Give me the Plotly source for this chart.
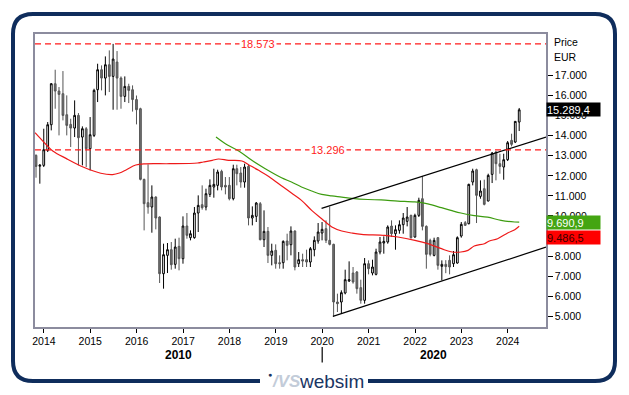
import calendar
import plotly.graph_objects as go

# ---------------- DATA ----------------
# Monthly candles, Oct 2013 .. Mar 2024 (EUR)
opens = [13019, 12480, 12521, 13268, 14546, 16588, 16223, 16090, 15044, 14563,
         14380, 15011, 13932, 14347, 13351, 14015, 16289, 17285, 16870, 17534,
         16953, 17667, 16870, 15957, 16455, 16289, 15800, 15343, 11824, 10662,
         10446, 10944, 9948, 7126, 8039, 8321, 7591, 8487, 7873, 9500,
         8919, 8919, 10147, 10562, 10446, 11077, 11442, 11525, 12222, 11525,
         11525, 10861, 12355, 12139, 11691, 12471, 9898, 9981, 10612, 8819,
         9234, 8039, 8288, 7674, 7674, 8753, 8570, 9251, 7624, 7823,
         7823, 7707, 8321, 8753, 9151, 9367, 8786, 8587, 5715, 5715,
         6163, 6761, 7159, 7209, 6429, 5798, 7624, 7159, 7093, 8205,
         8653, 8703, 9500, 9118, 9284, 9566, 9732, 10031, 8952, 10031,
         10861, 9483, 8786, 8039, 8919, 7492, 7591, 7790, 7624, 7657,
         9002, 9666, 9616, 11691, 12305, 10977, 11359, 10745, 12073, 13185,
         12604, 12438, 12803, 13766, 13683, 14679]
highs = [13069, 12580, 14347, 14679, 16621, 17285, 16422, 17219, 16007, 14845,
         15758, 15127, 14463, 14430, 14928, 16339, 17584, 17501, 17949, 18248,
         18573, 18215, 16953, 16953, 16588, 16505, 16000, 15393, 11857, 12571,
         11525, 10977, 9981, 8620, 8653, 8703, 8869, 8919, 9981, 10147,
         9284, 10446, 11027, 11525, 11359, 11824, 12355, 12305, 12305, 11940,
         11940, 12554, 12554, 12438, 12604, 12571, 10479, 10695, 10695, 10280,
         9450, 8620, 8587, 8039, 8786, 9118, 9483, 9284, 8205, 8122,
         8321, 8454, 8985, 9649, 9699, 9782, 10463, 8620, 6130, 6296,
         7325, 7740, 7458, 7259, 6827, 7906, 7790, 7823, 8371, 8952,
         8985, 9533, 9782, 9533, 9782, 10147, 10446, 10064, 10114, 10911,
         11990, 9533, 8869, 8919, 8952, 7790, 7800, 8039, 8255, 8985,
         9699, 9749, 11608, 12355, 12355, 11774, 11807, 12106, 13185, 13235,
         13102, 13102, 13733, 14098, 14729, 15380]
lows = [11907, 11610, 12438, 13185, 14264, 15343, 14015, 14762, 14015, 13434,
        13932, 12521, 12521, 12438, 12272, 13932, 15675, 16256, 16007, 16173,
        15293, 15293, 15343, 15675, 15625, 15200, 14563, 11774, 9284, 10114,
        9168, 9334, 6661, 6379, 7159, 7325, 7375, 7292, 7624, 8869,
        8786, 8869, 9201, 10313, 10280, 10944, 10911, 11276, 11276, 11077,
        10778, 10778, 11525, 11409, 11409, 9533, 9533, 9699, 8786, 8454,
        7657, 7541, 7375, 7375, 7375, 7790, 8039, 7292, 7458, 7458,
        7458, 7458, 7989, 8620, 8786, 8653, 8537, 5000, 5217, 5167,
        6097, 6711, 6628, 6130, 5632, 5632, 7093, 7043, 7043, 8089,
        8122, 8620, 8952, 8321, 9118, 9118, 9483, 8869, 8919, 9948,
        9284, 7375, 7989, 7989, 7325, 6793, 7150, 7093, 7458, 7624,
        8919, 9500, 9583, 11525, 9649, 10861, 10529, 10728, 11641, 11774,
        12106, 11807, 12737, 13467, 13633, 14231]
closes = [12471, 12530, 13301, 14546, 16588, 16223, 16057, 15011, 14513, 14380,
          15011, 13899, 14347, 13351, 14048, 16256, 17285, 16870, 17534, 16953,
          17816, 16870, 15957, 16455, 16256, 15800, 15293, 11824, 10612, 10446,
          10944, 9898, 7126, 8072, 8321, 7574, 8454, 7873, 9500, 9035,
          9118, 10147, 10529, 10413, 11110, 11525, 11575, 12189, 11442, 11442,
          10861, 12355, 12106, 11691, 12438, 9898, 10031, 10645, 8819, 9234,
          8039, 8255, 7624, 7624, 8736, 8537, 9251, 7458, 7823, 7757,
          7707, 8371, 8786, 9201, 9334, 8786, 8587, 5715, 5632, 6180,
          6827, 6827, 6711, 6379, 5798, 7624, 7375, 7458, 8205, 8703,
          8736, 9450, 9118, 9317, 9566, 9898, 9948, 8919, 10031, 10778,
          9483, 8089, 8089, 8786, 7541, 7591, 7480, 7458, 8072, 8919,
          9583, 9533, 11575, 12239, 11027, 11243, 10579, 12023, 13135, 12604,
          12471, 12803, 13650, 13567, 14712, 15289.4]

# moving averages
ma_red_dates = ["2013-10-23", "2014-01-20", "2014-03-12", "2014-06-24", "2014-11-15",
                "2015-03-25", "2015-06-26", "2015-08-19", "2015-10-13", "2015-12-25",
                "2016-03-14", "2016-09-15", "2017-04-25", "2017-06-09", "2017-08-19",
                "2017-10-07", "2017-12-25", "2018-04-09", "2018-05-31", "2018-08-19",
                "2018-11-06", "2019-02-28", "2019-05-04", "2019-07-22", "2019-10-10",
                "2019-12-28", "2020-03-17", "2020-06-03", "2020-08-22", "2020-11-06",
                "2021-05-07", "2021-08-19", "2021-12-31", "2022-04-12", "2022-07-28",
                "2022-10-10", "2022-12-28", "2023-02-22", "2023-04-12", "2023-07-01",
                "2023-08-09", "2023-10-13", "2023-12-31", "2024-02-25", "2024-03-31"]
ma_red = [14150, 13550, 13240, 12870, 12415, 12130, 12065, 12141, 12306, 12540,
          12600, 12604, 12640, 12690, 12770, 12838, 12771, 12738, 12555, 12273,
          11972, 11440, 11143, 10778, 10280, 9865, 9450, 9251, 9151, 9085,
          9035, 8952, 8786, 8620, 8371, 8220, 8205, 8288, 8504, 8620,
          8753, 8869, 9151, 9317, 9486.5]
ma_green_dates = ["2017-09-17", "2017-11-30", "2018-03-15", "2018-06-26", "2018-10-10",
                  "2019-02-15", "2019-05-04", "2019-07-22", "2019-10-10", "2019-12-28",
                  "2020-03-17", "2020-06-03", "2020-08-22", "2020-12-25", "2021-04-09",
                  "2021-08-19", "2021-12-31", "2022-04-12", "2022-07-28", "2022-10-10",
                  "2022-12-28", "2023-04-12", "2023-07-26", "2023-11-09", "2024-02-25",
                  "2024-03-31"]
ma_green = [13934, 13601, 13237, 12771, 12356, 11906, 11691, 11442, 11243, 11076,
            11000, 10944, 10880, 10820, 10800, 10745, 10700, 10600, 10413, 10280,
            10147, 10020, 9940, 9780, 9700, 9690.9]

# trend channel
channel_dates_upper = ["2019-12-27", "2024-10-28"]
channel_upper = [10380, 13934]
channel_dates_lower = ["2020-03-25", "2024-10-28"]
channel_lower = [5000, 8446]

levels = [18573, 13296]
level_label_pos = [0.437, 0.5726]
y_ticks = [5000, 6000, 7000, 8000, 9000, 10000, 11000, 12000, 13000, 14000,
           15000, 16000, 17000]
# 9.000 sits fully behind the red value box in the original
y_tick_labels = ["5.000", "6.000", "7.000", "8.000", "", "10.000", "11.000", "12.000",
                 "13.000", "14.000", "15.000", "16.000", "17.000"]
decade_labels = ["2010", "2020"]
decade_label_x = ["2016-11-27", "2022-05-30"]
decade_break = "2020-01-01"

# ---------------- FIGURE ----------------
FONT = "Liberation Sans, Arial, sans-serif"
W, H = 629, 395
ML, MR, MT, MB = 35, 83, 34, 68
PW, PH = W - ML - MR, H - MT - MB


def px(x):
    return (x - ML) / PW


def py(y):
    return (H - MB - y) / PH


def eu(v, dec=1):
    s = f"{v:,.{dec}f}"
    return s.replace(",", "X").replace(".", ",").replace("X", ".")


dates = []
yy, mm = 2013, 10
for _ in range(len(opens)):
    dates.append(f"{yy}-{mm:02d}-{calendar.monthrange(yy, mm)[1]:02d}")
    mm += 1
    if mm > 12:
        mm, yy = 1, yy + 1

fig = go.Figure()
fig.add_trace(go.Scatter(x=ma_red_dates, y=ma_red, mode="lines",
                         line=dict(color="#ee1a1a", width=1.2, shape="spline"),
                         showlegend=False))
fig.add_trace(go.Scatter(x=ma_green_dates, y=ma_green, mode="lines",
                         line=dict(color="#3d9c10", width=1.2, shape="spline"),
                         showlegend=False))
fig.add_trace(go.Candlestick(
    x=dates, open=opens, high=highs, low=lows, close=closes,
    increasing=dict(line=dict(color="#000000", width=1), fillcolor="#ffffff"),
    decreasing=dict(line=dict(color="#555555", width=1), fillcolor="#707070"),
    whiskerwidth=0, showlegend=False))
fig.add_trace(go.Scatter(x=channel_dates_upper, y=channel_upper, mode="lines",
                         line=dict(color="#000000", width=1.2), showlegend=False))
fig.add_trace(go.Scatter(x=channel_dates_lower, y=channel_lower, mode="lines",
                         line=dict(color="#000000", width=1.2), showlegend=False))

shapes = []
annotations = []


def note(**kw):
    kw.setdefault("showarrow", False)
    kw.setdefault("xanchor", "center")
    kw.setdefault("yanchor", "middle")
    annotations.append(kw)


for lv, lp in zip(levels, level_label_pos):
    shapes.append(dict(type="line", xref="paper", x0=0, x1=1, yref="y", y0=lv, y1=lv,
                       line=dict(color="#ff1a1a", width=1.2, dash="6px,4px")))
    note(xref="paper", x=lp, yref="y", y=lv, text=eu(lv, 0), bgcolor="#ffffff", borderpad=1,
         font=dict(family=FONT, size=11, color="#ff1a1a"))

# decade row
for lab, lx in zip(decade_labels, decade_label_x):
    note(xref="x", x=lx, yref="paper", y=py(355), text=f"<b>{lab}</b>",
         font=dict(family=FONT, size=12, color="#000"))
shapes.append(dict(type="line", xref="x", x0=decade_break, x1=decade_break,
                   yref="paper", y0=py(347), y1=py(362.5), line=dict(color="#000", width=1.2)))

# right side captions
note(xref="paper", x=1, xanchor="left", xshift=6, yref="paper", y=py(42),
     text="Price", font=dict(family=FONT, size=10.5, color="#000"))
note(xref="paper", x=1, xanchor="left", xshift=6, yref="paper", y=py(57),
     text="EUR", font=dict(family=FONT, size=10.5, color="#000"))

last_labels = [(closes[-1], "#000000", "#ffffff", 0),
               (ma_green[-1], "#44a512", "#ffffff", 0),
               (ma_red[-1], "#ff0000", "#3a0000", -11)]
for val, bg, fg, ys in last_labels:
    note(xref="paper", x=1, xanchor="left", yref="y", y=val, yshift=ys,
         text=eu(val, 1), bgcolor=bg, width=53, height=13, align="left", borderpad=0,
         font=dict(family=FONT, size=11, color=fg))

# frame with rounded corners and gap for the logo
L, R, T, B, r = 13, 615, 14, 381, 20
path = (f"M {px(260)} {py(B)} L {px(L + r)} {py(B)} Q {px(L)} {py(B)} {px(L)} {py(B - r)} "
        f"L {px(L)} {py(T + r)} Q {px(L)} {py(T)} {px(L + r)} {py(T)} "
        f"L {px(R - r)} {py(T)} Q {px(R)} {py(T)} {px(R)} {py(T + r)} "
        f"L {px(R)} {py(B - r)} Q {px(R)} {py(B)} {px(R - r)} {py(B)} L {px(368)} {py(B)}")
shapes.append(dict(type="path", xref="paper", yref="paper", path=path,
                   line=dict(color="#0f2d5c", width=4)))

# logo
note(xref="paper", yref="paper", x=px(331), y=py(381), text="websim",
     font=dict(family=FONT, size=19, color="#1a3563"))
note(xref="paper", yref="paper", x=px(286), y=py(381), text="<b><i>/VS</i></b>",
     font=dict(family=FONT, size=17, color="#c3ccd9"))
note(xref="paper", yref="paper", x=px(270), y=py(374), text="●",
     font=dict(family=FONT, size=7, color="#1a3563"))

fig.update_layout(
    width=W, height=H, margin=dict(l=ML, r=MR, t=MT, b=MB, autoexpand=False),
    paper_bgcolor="#ffffff", plot_bgcolor="#ffffff",
    font=dict(family=FONT, size=10, color="#000"),
    separators=",.", hovermode=False, showlegend=False,
    shapes=shapes, annotations=annotations,
    xaxis=dict(type="date", range=["2013-10-23", "2024-10-28"], rangeslider=dict(visible=False),
               showgrid=False, zeroline=False, tickformat="%Y", dtick="M12", tick0="2014-01-01",
               ticks="outside", ticklen=4, tickcolor="#000", tickfont=dict(size=10.5),
               automargin=False,
               showline=True, mirror=True, linecolor="#8c8c9e", linewidth=1.5),
    yaxis=dict(side="right", range=[4470, 19065], tickvals=y_ticks, ticktext=y_tick_labels,
               showgrid=False, zeroline=False, ticks="outside", ticklen=5, tickcolor="#000",
               tickfont=dict(size=10.5), automargin=False,
               showline=True, mirror=True, linecolor="#8c8c9e", linewidth=1.5),
)

fig.write_html("out.html", config={"displayModeBar": False},
               post_script="document.body.style.margin='0';document.body.style.overflow='hidden';")
